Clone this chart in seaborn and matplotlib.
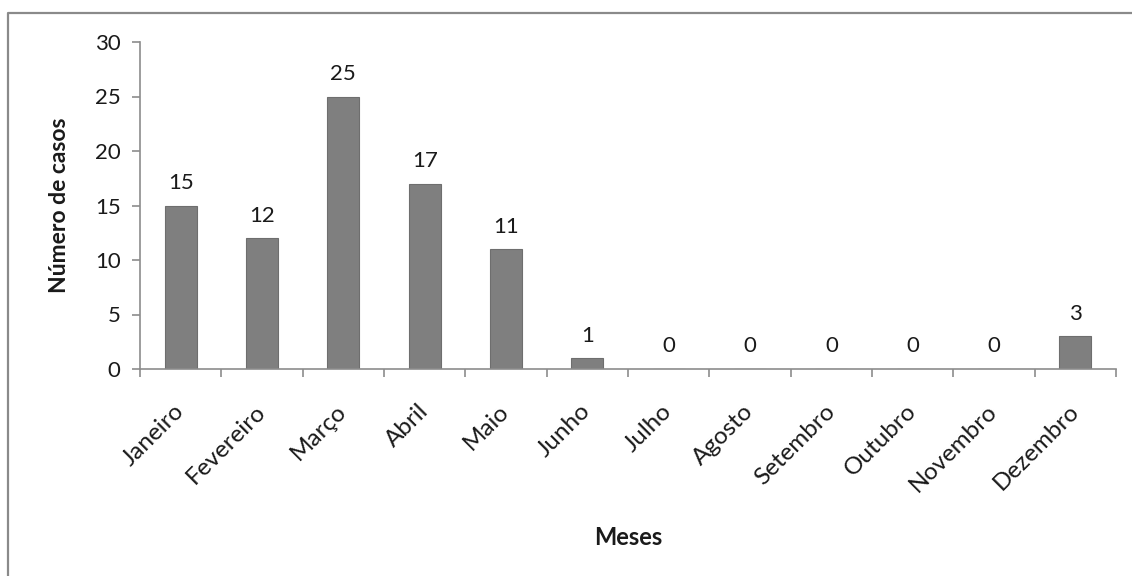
import matplotlib
matplotlib.use("Agg")
import matplotlib.pyplot as plt
from matplotlib.lines import Line2D
from matplotlib.ticker import FixedLocator, MultipleLocator
import pandas as pd
import seaborn as sns

meses = ["Janeiro", "Fevereiro", "Março", "Abril", "Maio", "Junho",
         "Julho", "Agosto", "Setembro", "Outubro", "Novembro", "Dezembro"]
casos = [15, 12, 25, 17, 11, 1, 0, 0, 0, 0, 0, 3]

df = pd.DataFrame({"Meses": meses, "Casos": casos})

sns.set_style("white")
plt.rcParams["font.family"] = ["Lato", "DejaVu Sans"]

axis_grey = "#8c8c8c"
bar_grey = "#7f7f7f"
text_col = "#1a1a1a"
fs = 16

fig = plt.figure(figsize=(11.32, 5.76), dpi=100)
ax = fig.add_axes([140 / 1132, 1 - 369 / 576, 976 / 1132, 327 / 576])

sns.barplot(data=df, x="Meses", y="Casos", order=meses, color=bar_grey,
            width=0.39, saturation=1, edgecolor="#6e6e6e", linewidth=0.8,
            ax=ax)

ax.set_xlim(-0.5, len(meses) - 0.5)
ax.set_ylim(0, 30)
ax.yaxis.set_major_locator(MultipleLocator(5))

# value labels above every bar
for i, v in enumerate(casos):
    ax.annotate(f"{v}", (i, v), xytext=(0, 9), textcoords="offset points",
                ha="center", va="bottom", fontsize=fs, color=text_col)

# spines and ticks in the spreadsheet style
for side in ("top", "right"):
    ax.spines[side].set_visible(False)
for side in ("left", "bottom"):
    ax.spines[side].set_color(axis_grey)
    ax.spines[side].set_linewidth(1.2)

ax.tick_params(axis="y", direction="out", length=6, width=1.2,
               color=axis_grey, labelsize=fs, labelcolor=text_col, pad=8,
               left=True)
ax.xaxis.set_minor_locator(FixedLocator([i - 0.5 for i in range(len(meses) + 1)]))
ax.tick_params(axis="x", which="minor", direction="out", length=6,
               width=1.2, color=axis_grey, bottom=True)
ax.tick_params(axis="x", which="major", length=0, labelsize=17.5,
               labelcolor=text_col, pad=28)
plt.setp(ax.get_xticklabels(), rotation=45, ha="right", va="center",
         rotation_mode="anchor")

ax.set_xlabel("Meses", fontsize=17, fontweight="bold", color=text_col)
ax.set_ylabel("Número de casos", fontsize=16.5, fontweight="bold",
              color=text_col)
ax.xaxis.set_label_coords(0.5, -0.514)
ax.yaxis.set_label_coords(-0.082, 0.5)
ax.xaxis.label.set_va("center")
ax.yaxis.label.set_va("center")

# chart-area frame (top and left edges)
fx = 7.5 / 1132
fy = 1 - 12.5 / 576
fig.add_artist(Line2D([fx, fx, 1.0], [0.0, fy, fy], transform=fig.transFigure,
                      color="#8a8a8a", linewidth=1.6))

fig.savefig("out.png", dpi=100, facecolor="white")
